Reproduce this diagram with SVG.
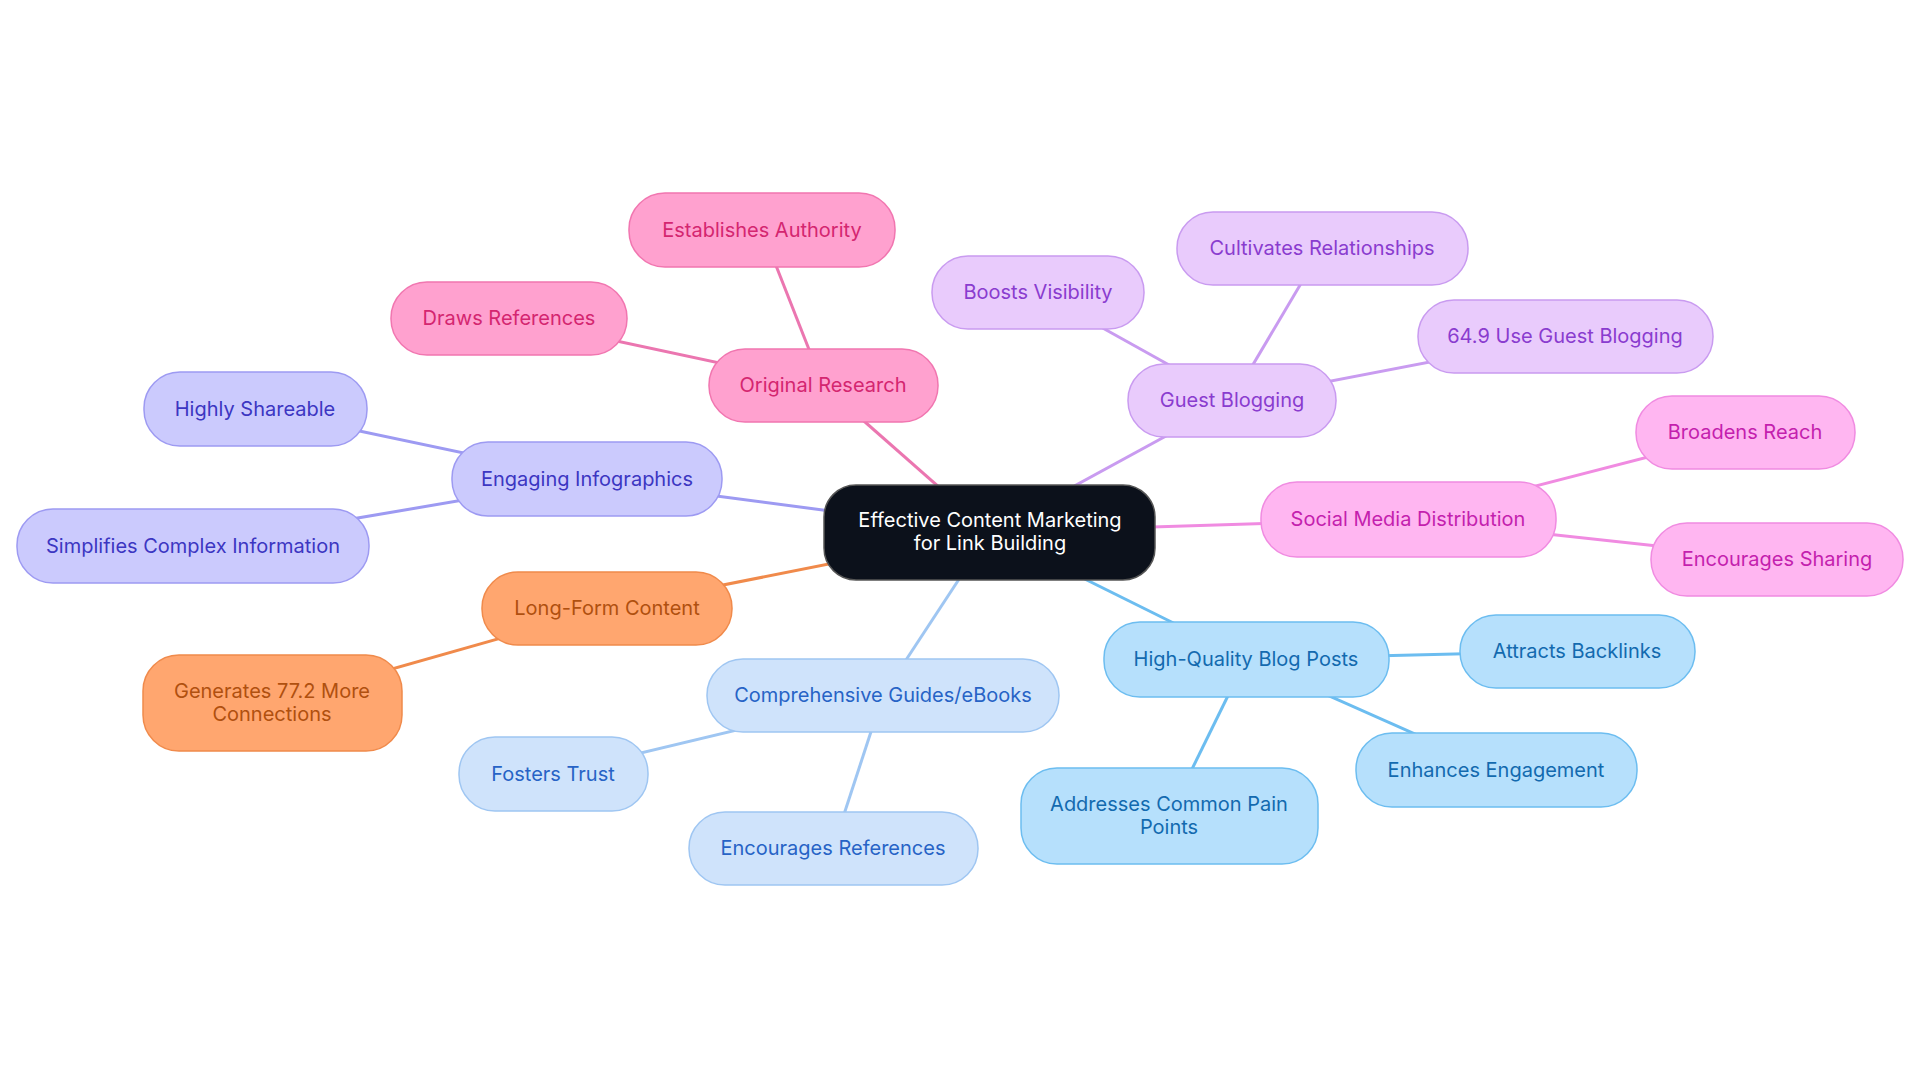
<svg xmlns="http://www.w3.org/2000/svg" width="1920" height="1083" viewBox="0 0 1920 1083">
<style>
text{font-family:Inter,"Noto Sans",sans-serif;font-size:20px;text-anchor:middle;dominant-baseline:central}
.c line{stroke-width:3;fill:none}
rect{stroke-width:1.5}
.pk rect{fill:#ffa1cf;stroke:#f176b0}.pk text{fill:#d42670}
.in rect{fill:#cbcafd;stroke:#9d9af2}.in text{fill:#3c36c2}
.or rect{fill:#ffa66f;stroke:#f08a4b}.or text{fill:#b0500f}
.lb rect{fill:#cfe3fb;stroke:#9fc6f2}.lb text{fill:#2763c6}
.sb rect{fill:#b6e0fc;stroke:#6cbdf0}.sb text{fill:#136aaf}
.mg rect{fill:#ffb6f1;stroke:#f08be1}.mg text{fill:#c41fae}
.pu rect{fill:#e9cbfc;stroke:#c99bf0}.pu text{fill:#8a3ccf}
</style>
<g class="c" id="connectors">
<line x1="990" y1="532" x2="823" y2="385" stroke="#eb76b0"/>
<line x1="823" y1="385" x2="762" y2="230" stroke="#eb76b0"/>
<line x1="823" y1="385" x2="509" y2="318" stroke="#eb76b0"/>
<line x1="990" y1="532" x2="587" y2="479" stroke="#9d9af2"/>
<line x1="587" y1="479" x2="255" y2="409" stroke="#9d9af2"/>
<line x1="587" y1="479" x2="193" y2="546" stroke="#9d9af2"/>
<line x1="990" y1="532" x2="607" y2="608" stroke="#f08a4b"/>
<line x1="607" y1="608" x2="272" y2="703" stroke="#f08a4b"/>
<line x1="990" y1="532" x2="883" y2="695" stroke="#9fc6f2"/>
<line x1="883" y1="695" x2="553" y2="774" stroke="#9fc6f2"/>
<line x1="883" y1="695" x2="833" y2="848" stroke="#9fc6f2"/>
<line x1="990" y1="532" x2="1246" y2="659" stroke="#6cbdf0"/>
<line x1="1246" y1="659" x2="1577" y2="651" stroke="#6cbdf0"/>
<line x1="1246" y1="659" x2="1496" y2="770" stroke="#6cbdf0"/>
<line x1="1246" y1="659" x2="1169" y2="816" stroke="#6cbdf0"/>
<line x1="990" y1="532" x2="1408" y2="519" stroke="#f08be1"/>
<line x1="1408" y1="519" x2="1745" y2="432" stroke="#f08be1"/>
<line x1="1408" y1="519" x2="1777" y2="559" stroke="#f08be1"/>
<line x1="990" y1="532" x2="1232" y2="400" stroke="#c99bf0"/>
<line x1="1232" y1="400" x2="1038" y2="292" stroke="#c99bf0"/>
<line x1="1232" y1="400" x2="1322" y2="248" stroke="#c99bf0"/>
<line x1="1232" y1="400" x2="1565" y2="336" stroke="#c99bf0"/>
</g>
<g id="center"><rect x="824" y="485" width="331" height="95" rx="32" fill="#0c111b" stroke="#555" stroke-width="1.5"/><text x="990" y="520" fill="#fff">Effective Content Marketing</text><text x="990" y="543" fill="#fff">for Link Building</text></g>
<g id="n1" class="pk"><rect x="709" y="349" width="229" height="73" rx="36"/><text x="823" y="385">Original Research</text></g>
<g id="n1a" class="pk"><rect x="629" y="193" width="266" height="74" rx="36"/><text x="762" y="230">Establishes Authority</text></g>
<g id="n1b" class="pk"><rect x="391" y="282" width="236" height="73" rx="36"/><text x="509" y="318">Draws References</text></g>
<g id="n2" class="in"><rect x="452" y="442" width="270" height="74" rx="36"/><text x="587" y="479">Engaging Infographics</text></g>
<g id="n2a" class="in"><rect x="144" y="372" width="223" height="74" rx="36"/><text x="255" y="409">Highly Shareable</text></g>
<g id="n2b" class="in"><rect x="17" y="509" width="352" height="74" rx="36"/><text x="193" y="546">Simplifies Complex Information</text></g>
<g id="n3" class="or"><rect x="482" y="572" width="250" height="73" rx="36"/><text x="607" y="608">Long-Form Content</text></g>
<g id="n3a" class="or"><rect x="143" y="655" width="259" height="96" rx="36"/><text x="272" y="691">Generates 77.2 More</text><text x="272" y="714">Connections</text></g>
<g id="n4" class="lb"><rect x="707" y="659" width="352" height="73" rx="36"/><text x="883" y="695">Comprehensive Guides/eBooks</text></g>
<g id="n4a" class="lb"><rect x="459" y="737" width="189" height="74" rx="36"/><text x="553" y="774">Fosters Trust</text></g>
<g id="n4b" class="lb"><rect x="689" y="812" width="289" height="73" rx="36"/><text x="833" y="848">Encourages References</text></g>
<g id="n5" class="sb"><rect x="1104" y="622" width="285" height="75" rx="36"/><text x="1246" y="659">High-Quality Blog Posts</text></g>
<g id="n5a" class="sb"><rect x="1460" y="615" width="235" height="73" rx="36"/><text x="1577" y="651">Attracts Backlinks</text></g>
<g id="n5b" class="sb"><rect x="1356" y="733" width="281" height="74" rx="36"/><text x="1496" y="770">Enhances Engagement</text></g>
<g id="n5c" class="sb"><rect x="1021" y="768" width="297" height="96" rx="36"/><text x="1169" y="804">Addresses Common Pain</text><text x="1169" y="827">Points</text></g>
<g id="n6" class="mg"><rect x="1261" y="482" width="295" height="75" rx="36"/><text x="1408" y="519">Social Media Distribution</text></g>
<g id="n6a" class="mg"><rect x="1636" y="396" width="219" height="73" rx="36"/><text x="1745" y="432">Broadens Reach</text></g>
<g id="n6b" class="mg"><rect x="1651" y="523" width="252" height="73" rx="36"/><text x="1777" y="559">Encourages Sharing</text></g>
<g id="n7" class="pu"><rect x="1128" y="364" width="208" height="73" rx="36"/><text x="1232" y="400">Guest Blogging</text></g>
<g id="n7a" class="pu"><rect x="932" y="256" width="212" height="73" rx="36"/><text x="1038" y="292">Boosts Visibility</text></g>
<g id="n7b" class="pu"><rect x="1177" y="212" width="291" height="73" rx="36"/><text x="1322" y="248">Cultivates Relationships</text></g>
<g id="n7c" class="pu"><rect x="1418" y="300" width="295" height="73" rx="36"/><text x="1565" y="336">64.9 Use Guest Blogging</text></g>
</svg>
